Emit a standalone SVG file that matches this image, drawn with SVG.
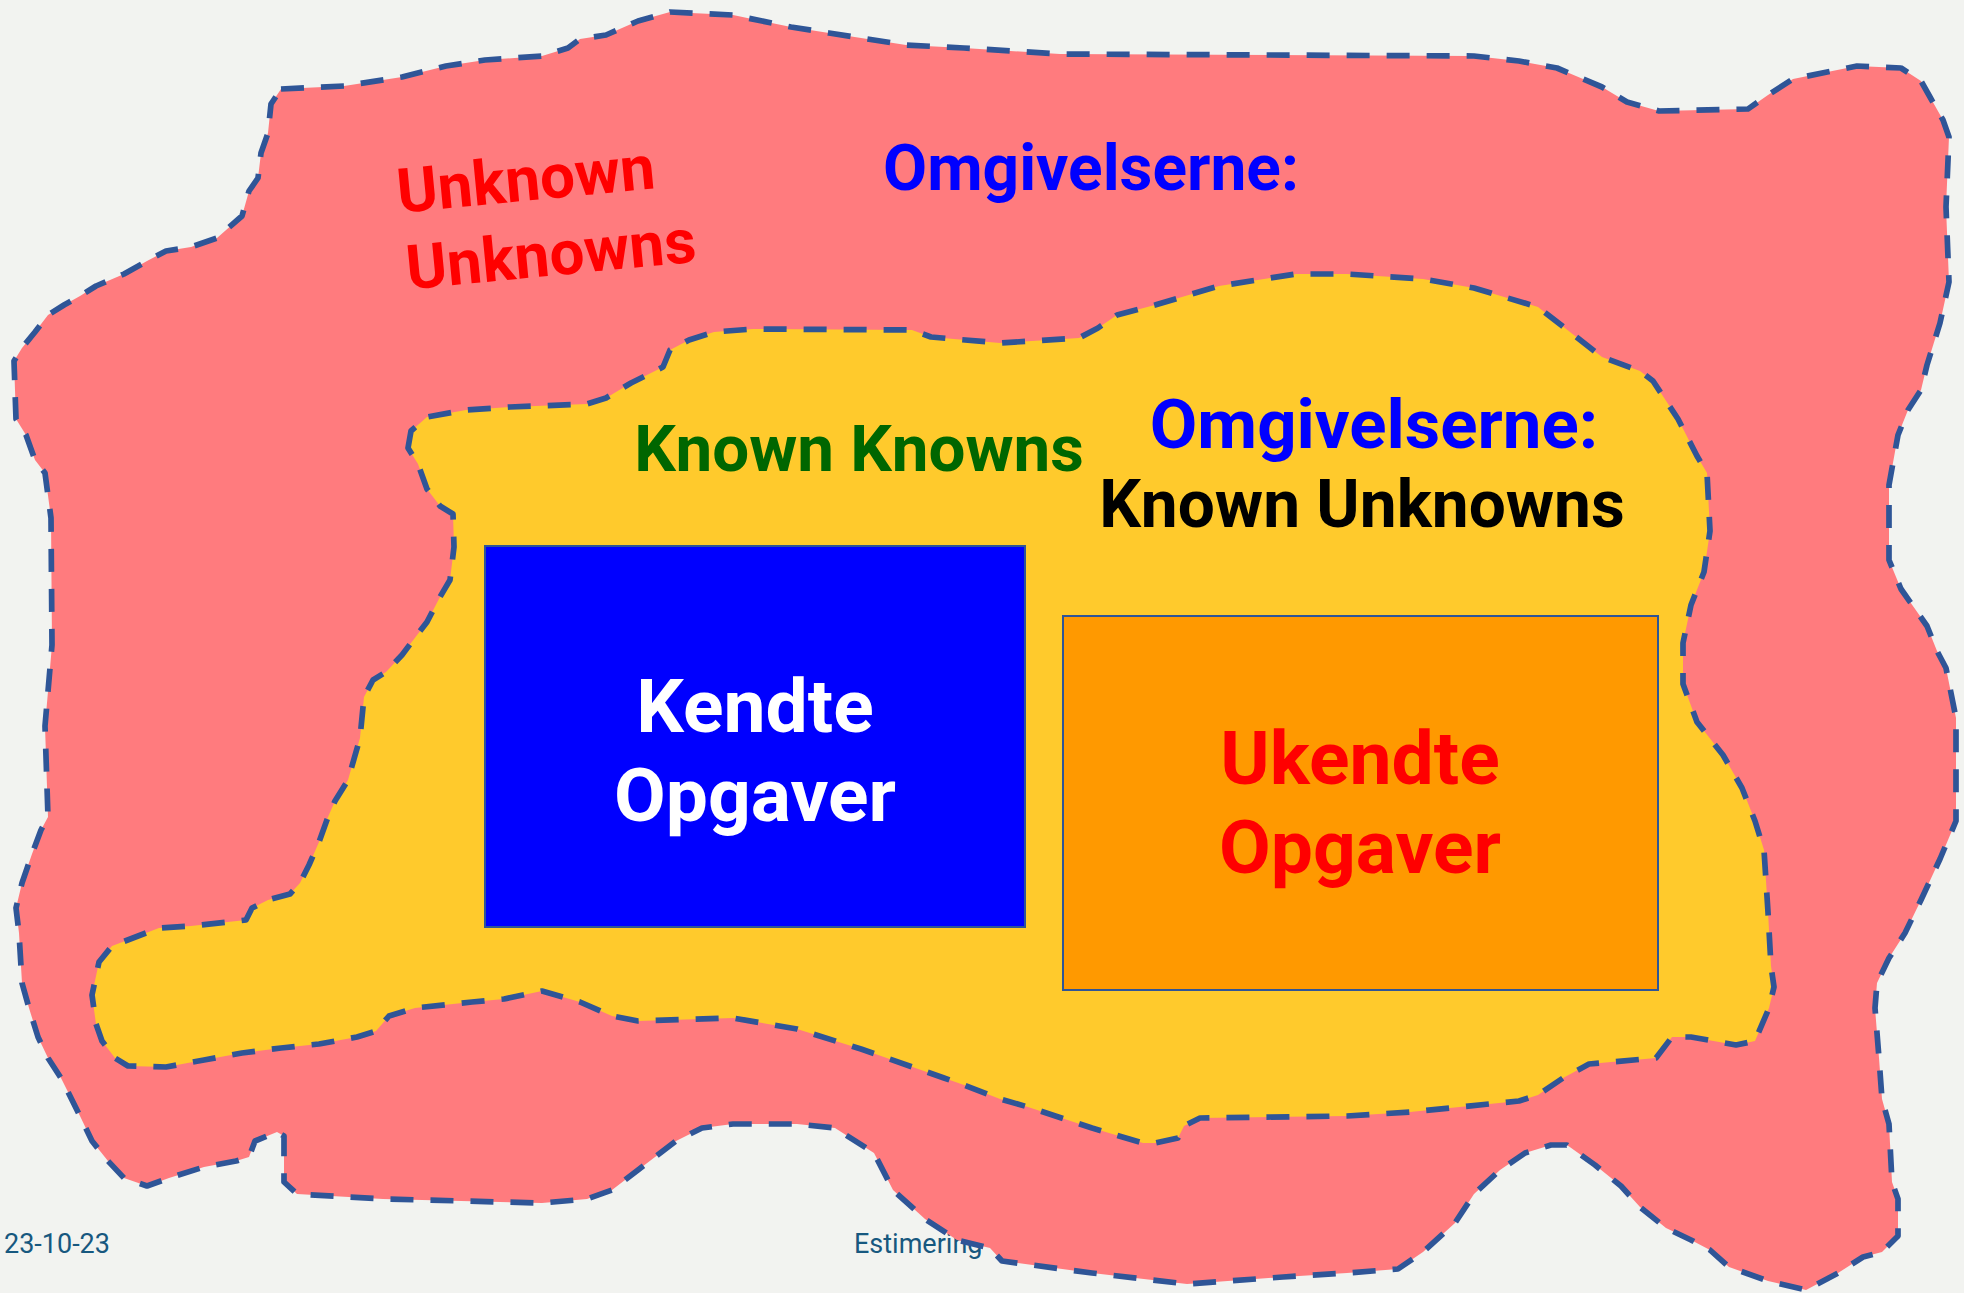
<svg xmlns="http://www.w3.org/2000/svg" width="1964" height="1293" viewBox="0 0 1964 1293">
<style>
.blob{stroke:#2f5597;stroke-width:5.7;stroke-dasharray:23 17;stroke-linejoin:round;}
.t{font-family:Roboto,"Liberation Sans",sans-serif;font-weight:bold;}
.foot{font-family:Roboto,"Liberation Sans",sans-serif;font-size:27px;fill:#17587f;}
.box{stroke:#2f5597;stroke-width:2;}
</style>
<rect width="1964" height="1293" fill="#f2f3f0"/>
<g id="footer">
<text class="foot" x="4" y="1253">23-10-23</text>
<text class="foot" x="854" y="1253">Estimering</text>
</g>
<g id="outer">
<path class="blob" fill="#ff7b7e" d="M281,89 L344,86 402,77 446,66 485,60 542,56 568,48 580,39 606,35 638,21 670,12 733,15 791,27 829,33 906,45 964,48 1060,54 1474,56 1519,61 1557,68 1602,87 1627,102 1659,111 1748,109 1768,95 1793,79 1857,66 1901,68 1921,81 1930,97 1943,120 1949,137 1946,207 1949,282 1940,323 1927,365 1921,390 1908,410 1898,435 1889,485 1889,560 1901,589 1927,626 1937,651 1946,668 1956,718 1956,821 1940,859 1921,900 1905,933 1889,958 1877,983 1875,1008 1879,1058 1882,1099 1889,1124 1892,1182 1898,1199 1898,1236 1882,1252 1863,1257 1838,1273 1806,1290 1768,1281 1729,1267 1710,1250 1691,1240 1666,1228 1640,1207 1621,1186 1595,1165 1567,1145 1551,1145 1525,1153 1500,1170 1474,1194 1455,1223 1423,1252 1398,1269 1347,1273 1283,1277 1187,1284 1092,1273 1002,1261 990,1248 957,1240 925,1219 893,1190 874,1153 835,1128 797,1124 733,1124 702,1128 676,1141 638,1170 612,1190 587,1199 542,1203 383,1199 297,1194 284,1182 284,1136 277,1132 255,1141 249,1157 236,1161 204,1167 169,1178 147,1186 124,1178 108,1161 92,1141 80,1116 61,1078 48,1058 38,1037 29,1008 22,983 19,933 16,908 22,883 32,854 41,830 48,817 45,726 52,645 51,518 45,473 35,460 26,435 16,419 14,361 22,348 35,332 48,315 64,305 80,296 96,286 124,274 147,261 166,251 191,247 217,238 242,216 249,191 258,178 261,153 268,133 271,104 Z"/>
</g>
<g id="inner">
<path class="blob" fill="#ffca2c" d="M408,448 L411,431 427,417 466,410 510,407 587,404 606,398 631,383 663,367 670,350 689,340 714,332 753,329 912,330 931,337 1000,343 1079,338 1098,328 1117,315 1155,305 1219,286 1296,274 1347,274 1423,279 1474,288 1538,307 1570,332 1602,357 1640,371 1653,381 1678,419 1697,456 1707,473 1710,531 1704,572 1691,605 1683,643 1683,684 1697,722 1723,755 1742,788 1755,821 1764,850 1768,912 1771,966 1774,987 1769,1008 1755,1041 1736,1045 1691,1037 1672,1037 1656,1058 1589,1064 1563,1078 1538,1095 1519,1101 1410,1112 1347,1116 1200,1118 1184,1126 1178,1138 1155,1143 1143,1143 1092,1128 1028,1107 1000,1099 964,1085 944,1078 861,1049 797,1029 733,1018 638,1021 612,1016 580,1002 542,991 504,999 472,1002 415,1008 389,1016 376,1031 357,1037 319,1044 281,1048 242,1053 204,1060 166,1067 128,1066 115,1058 102,1041 96,1024 92,995 99,962 112,946 159,928 191,926 246,920 252,908 268,900 290,894 300,883 309,865 319,842 328,817 335,801 348,780 354,759 360,738 364,697 373,680 386,672 402,655 411,643 427,622 440,597 450,580 454,547 453,514 440,506 427,489 418,464 Z"/>
</g>
<g id="labels">
<g transform="rotate(-5.5 399 213)">
<text class="t" x="399" y="213" font-size="62" fill="#ff0000">Unknown</text>
<text class="t" x="401" y="290" font-size="62" fill="#ff0000">Unknowns</text>
</g>
<text class="t" x="1091" y="190" font-size="64" fill="#0000ff" text-anchor="middle">Omgivelserne:</text>
<text class="t" x="859" y="471" font-size="65.5" fill="#006600" text-anchor="middle">Known Knowns</text>
<text class="t" x="1374" y="448" font-size="69" fill="#0000ff" text-anchor="middle">Omgivelserne:</text>
<text class="t" x="1362" y="527" font-size="65.8" fill="#000000" text-anchor="middle">Known Unknowns</text>
</g>
<g id="kendte">
<rect class="box" x="485" y="546" width="540" height="381" fill="#0000ff"/>
<text class="t" x="755" y="732" font-size="75" fill="#ffffff" text-anchor="middle">Kendte</text>
<text class="t" x="755" y="821" font-size="75" fill="#ffffff" text-anchor="middle">Opgaver</text>
</g>
<g id="ukendte">
<rect class="box" x="1063" y="616" width="595" height="374" fill="#ff9900"/>
<text class="t" x="1360" y="784" font-size="75" fill="#ff0000" text-anchor="middle">Ukendte</text>
<text class="t" x="1360" y="873" font-size="75" fill="#ff0000" text-anchor="middle">Opgaver</text>
</g>
</svg>
